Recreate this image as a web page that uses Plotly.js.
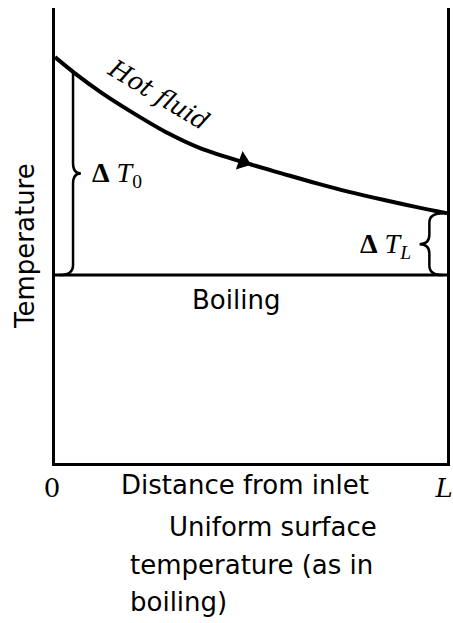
<!DOCTYPE html>
<html><head><meta charset="utf-8">
<script src="https://cdn.plot.ly/plotly-3.0.1.min.js"></script>
<style>body{margin:0;background:#fff}#chart{width:453px;height:623px}</style>
</head><body><div id="chart"></div>
<script>
// Distance from inlet (fraction of L) and hot-fluid temperature (arbitrary units)
const distance = [0, 0.05, 0.12, 0.2, 0.29, 0.37, 0.5, 0.58, 0.67, 0.75, 0.84, 0.92, 1.0];
const hotFluidT = [89.2, 85.7, 81.3, 76.9, 72.4, 69.2, 65.6, 63.6, 61.4, 59.6, 57.8, 56.3, 54.9];
// Uniform surface (boiling) temperature
const boilingX = [0, 1];
const boilingT = [41.3, 41.3];
// Flow-direction arrow on the hot-fluid curve
const arrowX = [0.48];
const arrowT = [66.2];
// Axis ticks
const xTickVals = [0, 1];
const xTickText = ["0", "<i>L</i>"];

function interpT(x) {
  for (let i = 1; i < distance.length; i++) {
    if (x <= distance[i]) {
      const f = (x - distance[i-1]) / (distance[i] - distance[i-1]);
      return hotFluidT[i-1] + f * (hotFluidT[i] - hotFluidT[i-1]);
    }
  }
  return hotFluidT[hotFluidT.length - 1];
}

// brace path: dir=+1 tip to right "}", dir=-1 tip to left "{"
function bracePath(xc, y0, y1, tip, curl0, curl1, dir, rf) {
  const ym = (y0 + y1) / 2;
  const r = (y1 - y0) * rf;
  return `M ${xc - dir*curl0},${y0} Q ${xc},${y0} ${xc},${y0 + r} ` +
         `L ${xc},${ym - r} Q ${xc},${ym} ${xc + dir*tip},${ym} ` +
         `Q ${xc},${ym} ${xc},${ym + r} L ${xc},${y1 - r} ` +
         `Q ${xc},${y1} ${xc - dir*curl1},${y1}`;
}

const b0x = 0.046, bLx = 0.955;
const shapes = [
  {type: 'path', xref: 'x', yref: 'y', line: {color: '#000', width: 2.5},
   path: bracePath(b0x, boilingT[0], interpT(b0x), 0.02, 0.035, 0.0, 1, 0.05)},
  {type: 'path', xref: 'x', yref: 'y', line: {color: '#000', width: 2.5},
   path: bracePath(bLx, boilingT[0], interpT(1.0), 0.025, 0.035, 0.035, -1, 0.15)}
];

const sans = {family: 'DejaVu Sans', size: 26, color: '#000'};
const serif = {family: 'Liberation Serif', size: 28, color: '#000'};

function note(x, y, text, font, opts) {
  return Object.assign({x: x, y: y, xref: 'paper', yref: 'paper', text: text, showarrow: false,
    xanchor: 'center', yanchor: 'middle', font: font}, opts || {});
}

const annotations = [
  note(0.263, 0.809, '<i>Hot fluid</i>', {family: 'DejaVu Serif', size: 25, color: '#000'}, {textangle: 31}),
  note(0.089, 0.633, '<b>Δ</b> <i>T</i><sub>0</sub>', serif, {xanchor: 'left'}),
  note(0.913, 0.478, '<b>Δ</b> <i>T<sub>L</sub></i>', serif, {xanchor: 'right'}),
  note(0.462, 0.358, 'Boiling', sans),
  note(0.485, -0.0484, 'Distance from inlet', sans),
  note(-0.0765, 0.477, 'Temperature', sans, {textangle: -90}),
  note(0.286, -0.1407, 'Uniform surface', sans, {xanchor: 'left'}),
  note(0.186, -0.2242, 'temperature (as in', sans, {xanchor: 'left'}),
  note(0.186, -0.3055, 'boiling)', sans, {xanchor: 'left'})
];

const traces = [
  {x: distance, y: hotFluidT, mode: 'lines', line: {color: '#000', width: 4, shape: 'spline', smoothing: 1},
   hoverinfo: 'skip', cliponaxis: false},
  {x: boilingX, y: boilingT, mode: 'lines', line: {color: '#000', width: 3}, hoverinfo: 'skip'},
  {x: arrowX, y: arrowT, mode: 'markers',
   marker: {symbol: 'triangle-right', size: 17, angle: 20, color: '#000'}, hoverinfo: 'skip'}
];

const layout = {
  width: 453, height: 623,
  margin: {l: 55, r: 6, t: 8, b: 160},
  paper_bgcolor: '#fff', plot_bgcolor: '#fff',
  showlegend: false,
  xaxis: {range: [0, 1], showgrid: false, zeroline: false, showline: true, linecolor: '#000',
          linewidth: 3, mirror: false, tickvals: xTickVals, ticktext: xTickText, ticks: '',
          ticklabeloverflow: 'allow', ticklabelshift: -3,
          tickfont: {family: 'DejaVu Serif', size: 26, color: '#000'}, ticklabelstandoff: 0, fixedrange: true},
  yaxis: {range: [0, 100], showgrid: false, zeroline: false, showline: true, linecolor: '#000',
          linewidth: 3, mirror: true, showticklabels: false, ticks: '', fixedrange: true},
  shapes: shapes,
  annotations: annotations
};

Plotly.newPlot('chart', traces, layout, {displayModeBar: false, staticPlot: true});
</script>
</body></html>
